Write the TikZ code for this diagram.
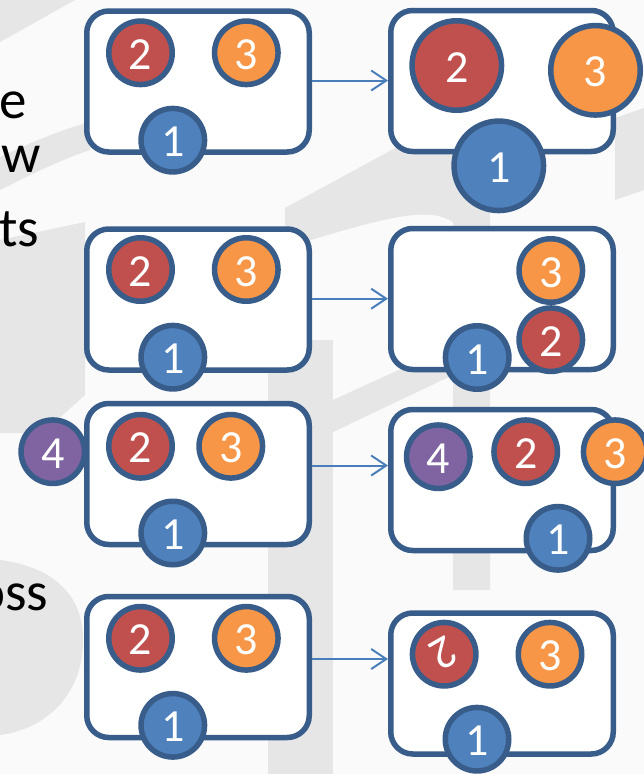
\documentclass[tikz,border=0pt]{standalone}
\usepackage{fontspec}
\setmainfont{Carlito}
\usetikzlibrary{arrows.meta}
\definecolor{bd}{HTML}{385D8A}
\definecolor{cb}{HTML}{4F81BD}
\definecolor{cr}{HTML}{C0504D}
\definecolor{co}{HTML}{F79646}
\definecolor{cp}{HTML}{8064A2}
\definecolor{ar}{HTML}{4A7EBB}
\definecolor{bgc}{HTML}{FAFAFA}
\definecolor{wm}{HTML}{E6E6E6}
\begin{document}
\begin{tikzpicture}[x=1pt,y=-1pt,
  box/.style={draw=bd, line width=5.5pt, fill=white, rounded corners=22pt,
    minimum width=222.5pt, minimum height=141pt, inner sep=0pt},
  ball/.style={circle, draw=bd, line width=5.5pt, inner sep=0pt, minimum size=63.5pt,
    text=white, font=\fontsize{46}{50}\selectfont, text height=33pt, text depth=0pt},
  bigball/.style={ball, minimum size=89.5pt},
  cblue/.style={fill=cb}, cred/.style={fill=cr}, corange/.style={fill=co}, cpurple/.style={fill=cp},
  conn/.style={draw=ar, line width=2pt, -{Straight Barb[length=15pt,width=20pt]}},
  lbl/.style={font=\fontsize{55}{60}\selectfont, inner sep=0pt, text=black},
  wmark/.style={fill=wm, draw=none}
]
\useasboundingbox (0,0) rectangle (644,774);
\fill[bgc] (0,0) rectangle (644,774);
% watermark
\path[wmark] (0,0) -- (75,0) -- (0,42) -- cycle;
\path[wmark] (0,157) .. controls (30,143) and (60,130) .. (90,122) -- (90,150) .. controls (60,160) and (30,175) .. (0,190) -- cycle;
\path[wmark] (285,208) -- (410,140) -- (490,140) -- (490,590) -- (453,590) -- (453,222) .. controls (430,208) and (400,212) .. (285,248) -- cycle;
\path[wmark] (0,240) -- (85,222) -- (85,395) -- (43,433) -- (0,433) -- cycle;
\path[wmark] (0,560) .. controls (40,565) and (83,585) .. (83,640) .. controls (83,700) and (40,730) .. (0,735) -- cycle;
\path[wmark] (268,340) -- (333,340) -- (333,774) -- (268,774) -- cycle;
\path[wmark] (333,400) -- (453,345) -- (453,375) -- (333,432) -- cycle;
\path[wmark] (615,118) -- (644,108) -- (644,190) -- (615,200) -- cycle;
% partial text
\node[lbl, anchor=base west] (te) at (-1,118) {e};
\node[lbl, anchor=base west] (tw) at (1,172) {w};
\node[lbl, anchor=base west] (tts) at (-1,246) {ts};
\node[lbl, anchor=base east] (toss) at (48.5,610) {oss};
% boxes
\node[box] (L1) at (198,81.5) {};
\node[box] (R1) at (502,81) {};
\node[box] (L2) at (198,299.5) {};
\node[box] (R2) at (502,299) {};
\node[box] (L3) at (198,474) {};
\node[box] (R3) at (502,480) {};
\node[box] (L4) at (198,667) {};
\node[box] (R4) at (502,683.5) {};
% row 1
\node[ball, cred] (l1b2) at (140.5,52.8) {2};
\node[ball, corange] (l1b3) at (246.3,52.8) {3};
\node[ball, cblue] (l1b1) at (172.8,140.2) {1};
\node[bigball, cred] (r1b2) at (456.8,65.5) {2};
\node[bigball, corange] (r1b3) at (595.5,70.3) {3};
\node[bigball, cblue] (r1b1) at (498.8,165.8) {1};
% row 2
\node[ball, cred] (l2b2) at (140.5,269.5) {2};
\node[ball, corange] (l2b3) at (246.3,269.5) {3};
\node[ball, cblue] (l2b1) at (172.8,357.2) {1};
\node[ball, corange] (r2b3) at (550.8,270.5) {3};
\node[ball, cred] (r2b2) at (550.8,339.7) {2};
\node[ball, cblue] (r2b1) at (477.2,357.5) {1};
% row 3
\node[ball, cpurple] (l3b4) at (52.8,451.7) {4};
\node[ball, cred] (l3b2) at (140.5,446.3) {2};
\node[ball, corange] (l3b3) at (230.8,446.3) {3};
\node[ball, cblue] (l3b1) at (172.8,533) {1};
\node[ball, cpurple] (r3b4) at (438.3,456.7) {4};
\node[ball, cred] (r3b2) at (525.7,451.7) {2};
\node[ball, corange] (r3b3) at (615.2,451.7) {3};
\node[ball, cblue] (r3b1) at (558,538.3) {1};
% row 4
\node[ball, cred] (l4b2) at (140.5,638.3) {2};
\node[ball, corange] (l4b3) at (246.3,638.3) {3};
\node[ball, cblue] (l4b1) at (172.8,725.3) {1};
\node[ball, cred, rotate=210] (r4b2) at (444.2,654.2) {2};
\node[ball, corange] (r4b3) at (550,654.2) {3};
\node[ball, cblue] (r4b1) at (477,739.2) {1};
% arrows
\coordinate (y1) at (0,80.5);
\coordinate (y2) at (0,298.7);
\coordinate (y3) at (0,465.5);
\coordinate (y4) at (0,659);
\draw[conn] (L1.east |- y1) -- (R1.west |- y1);
\draw[conn] (L2.east |- y2) -- (R2.west |- y2);
\draw[conn] (L3.east |- y3) -- (R3.west |- y3);
\draw[conn] (L4.east |- y4) -- (R4.west |- y4);
\end{tikzpicture}
\end{document}
